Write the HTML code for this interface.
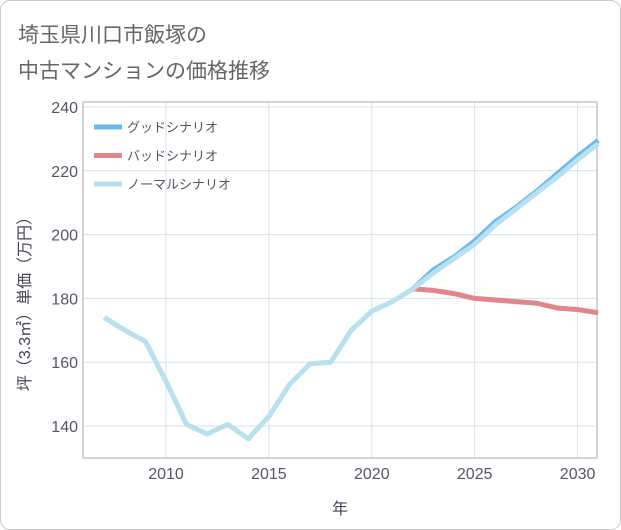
<!DOCTYPE html>
<html><head><meta charset="utf-8"><style>
body{margin:0;background:#fff;}
#card{position:absolute;left:0;top:0;width:619px;height:528px;border:1px solid #ccc;border-radius:10px;background:#fff;}
</style></head><body>
<div id="card">
<svg id="chart" width="621" height="530" style="position:absolute;left:-1px;top:-1px;font-family:'Liberation Sans','Noto Sans CJK JP',sans-serif;"></svg>
</div>
<script>
const years=[2007,2008,2009,2010,2011,2012,2013,2014,2015,2016,2017,2018,2019,2020,2021,2022,2023,2024,2025,2026,2027,2028,2029,2030,2031];
const normal=[174,170,166.5,154,140.5,137.5,140.5,136,143,153,159.5,160,170,176,179,183,188,192.5,197,203,208,213,218,223.5,228.5];
const goodYears=[2022,2023,2024,2025,2026,2027,2028,2029,2030,2031];
const good=[183,189,193,198,204,208.5,213.5,219,224.5,229.5];
const bad=[183,182.5,181.5,180,179.5,179,178.5,177,176.5,175.5];
const xTicks=[2010,2015,2020,2025,2030];
const yTicks=[140,160,180,200,220,240];
const L=83,R=597,T=102,B=458;
const x=v=>166+(v-2010)*20.58;
const y=v=>426-(v-140)*3.19;
const svg=document.getElementById('chart');
const NS='http://www.w3.org/2000/svg';
function mk(tag,attrs,parent){const e=document.createElementNS(NS,tag);for(const k in attrs)e.setAttribute(k,attrs[k]);(parent||svg).appendChild(e);return e;}
let t;
t=mk('text',{x:18,y:42,fill:'#666','font-size':21});t.textContent='埼玉県川口市飯塚の';

t=mk('text',{x:18,y:78,fill:'#666','font-size':21});t.textContent='中古マンションの価格推移';

xTicks.forEach(v=>{const g=mk('line',{x1:x(v),x2:x(v),y1:T,y2:B,stroke:'#d5e2ec','stroke-width':1});

const l=mk('text',{x:x(v),y:479,fill:'#556','font-size':16,'text-anchor':'middle'});l.textContent=v;
});
yTicks.forEach(v=>{const g=mk('line',{x1:L,x2:R,y1:y(v),y2:y(v),stroke:'#d5e2ec','stroke-width':1});

const l=mk('text',{x:78,y:y(v)+6,fill:'#556','font-size':16,'text-anchor':'end'});l.textContent=v;
});
const frame=mk('rect',{x:L,y:T,width:R-L,height:B-T,fill:'none',stroke:'#aaa','stroke-width':1});

t=mk('text',{x:340,y:514,fill:'#445','font-size':16,'text-anchor':'middle'});t.textContent='年';

t=mk('text',{x:0,y:0,fill:'#445','font-size':16,'text-anchor':'middle',transform:'translate(30,300) rotate(-90)'});t.textContent='坪（3.3㎡）単価（万円）';

function line(xs,ys,color,name){const p=mk('polyline',{points:xs.map((v,i)=>x(v)+','+y(ys[i])).join(' '),fill:'none',stroke:color,'stroke-width':5,'stroke-linejoin':'round'});
}
line(goodYears,bad,'#e0868c','bad-scenario-line');
line(goodYears,good,'#6ab8ef','good-scenario-line');
line(years,normal,'#b9e0ef','normal-scenario-line');
const leg=[['グッドシナリオ','#6ab8ef'],['バッドシナリオ','#e0868c'],['ノーマルシナリオ','#b9e0ef']];
leg.forEach((d,i)=>{const yy=127+i*28.5;
const s=mk('line',{x1:94,x2:122,y1:yy,y2:yy,stroke:d[1],'stroke-width':5});

const l=mk('text',{x:127,y:yy+5,fill:'#556','font-size':13});l.textContent=d[0];
});
</script>
</body></html>
